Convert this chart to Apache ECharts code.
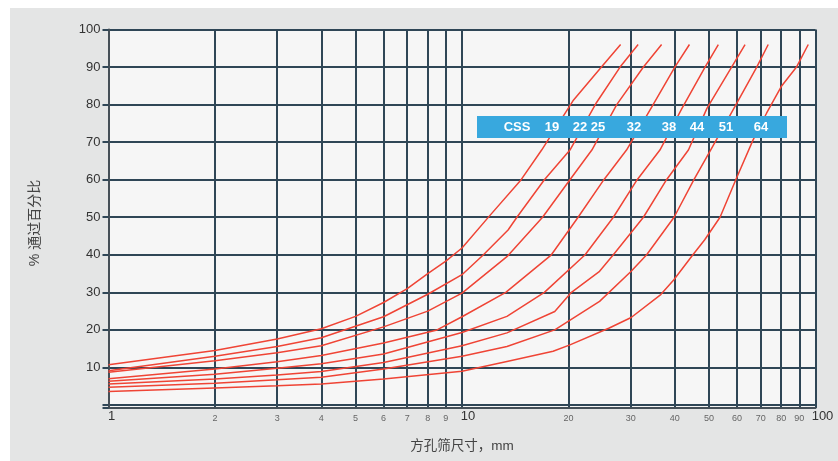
<!DOCTYPE html>
<html>
<head>
<meta charset="utf-8">
<script src="https://cdn.jsdelivr.net/npm/echarts@6/dist/echarts.min.js"></script>
<style>
html,body{margin:0;padding:0;background:#ffffff;}
#chart{width:838px;height:461px;}
</style>
</head>
<body>
<div id="chart"></div>
<script>
// ---- data (sieve size mm -> % passing) ----
const cssNames = ['19', '22', '25', '32', '38', '44', '51', '64'];

const size19 = [1, 2, 3, 4, 5, 6, 7, 8, 9, 10, 12, 14.7, 16.8, 20.6, 24.8, 28.1];
const pass19 = [10.7, 14.5, 17.6, 20.3, 23.6, 27.3, 31, 35, 38.3, 41.8, 50.5, 60, 67.9, 81, 90, 96];

const size22 = [1, 2, 3, 4, 6, 8, 10, 11.5, 13.5, 14.3, 17.1, 20.2, 24, 28, 31.5];
const pass22 = [9.1, 13.0, 15.6, 17.9, 23.5, 29.5, 34.7, 40, 46.6, 50, 60, 67.9, 80.5, 90, 96];

const size25 = [1, 2, 3, 4, 6, 8, 10, 13.4, 16.9, 20.2, 23.3, 27.4, 32.6, 36.7];
const pass25 = [8.7, 11.8, 13.9, 15.8, 20.8, 25, 29.8, 39.5, 50, 60, 67.9, 80, 90, 96];

const size32 = [1, 2, 3, 4, 6, 8.5, 10, 13.3, 17.9, 21.3, 25.2, 29.2, 34.5, 40, 44];
const pass32 = [7.0, 9.6, 11.5, 13.2, 16.5, 20, 23.5, 30, 40, 50, 60, 67.9, 79.5, 90, 96];

const size38 = [1, 2, 3, 4, 6, 10, 13.4, 17.1, 22.3, 26.8, 31.3, 36.3, 41.9, 48.7, 53.1];
const pass38 = [6.3, 8.2, 9.8, 11.0, 13.6, 19.3, 23.6, 30, 40, 50, 60, 67.9, 79, 90, 96];

const size44 = [1, 2, 3, 4, 6, 10, 13.4, 18.3, 20.4, 24.5, 26.8, 32.6, 37.9, 43.7, 49.3, 57.9, 63.2];
const pass44 = [5.6, 6.9, 8.0, 8.9, 11.3, 15.8, 19.2, 24.9, 30, 35.6, 40, 50, 60, 67.9, 79, 90, 96];

const size51 = [1, 2, 3, 4, 6, 10, 13.4, 18.3, 24.5, 30.1, 33.3, 39.8, 45.3, 50.5, 59.2, 68.2, 73.5];
const pass51 = [4.7, 5.8, 6.7, 7.4, 9.6, 13, 15.6, 20, 27.6, 35.6, 40, 50, 60, 67.9, 79.5, 90, 96];

const size64 = [1, 2, 3, 4, 6, 10, 13.4, 18.1, 20.2, 26.1, 30.1, 36.5, 39.7, 45, 48.6, 53.7, 59.5, 66.6, 72.7, 80, 88.5, 95.4];
const pass64 = [3.6, 4.5, 5.1, 5.6, 6.9, 9.0, 11.6, 14.3, 16.0, 20.5, 23.3, 29.4, 33.3, 40, 44, 50, 60, 70.6, 77.7, 84.8, 90.1, 96];

const xTicks = [1, 2, 3, 4, 5, 6, 7, 8, 9, 10, 20, 30, 40, 50, 60, 70, 80, 90, 100];

const legendTitle = 'CSS';
const xName = '方孔筛尺寸，mm';
const yName = '% 通过百分比';

// ---- chart ----
const curves = [
  [size19, pass19], [size22, pass22], [size25, pass25], [size32, pass32],
  [size38, pass38], [size44, pass44], [size51, pass51], [size64, pass64]
];

const FONT = "'Liberation Sans', Arial, 'Noto Sans CJK SC', sans-serif";
const GRID_COLOR = '#2f4656';
const LINE_COLOR = '#ef4435';

const chart = echarts.init(document.getElementById('chart'), null, {renderer: 'canvas'});

const legendX = [517, 552, 580, 598, 634, 669, 697, 726, 761];
const legendTexts = [legendTitle].concat(cssNames);

const graphics = [
  {type: 'rect', z: -10, silent: true, shape: {x: 10, y: 8, width: 828, height: 453}, style: {fill: '#e4e5e5'}},
  {type: 'rect', z: 100, silent: true, shape: {x: 477, y: 116, width: 310, height: 22}, style: {fill: '#38a8de'}},
  {
    type: 'text', z: 50, silent: true, x: 35, y: 223, rotation: Math.PI / 2,
    style: {text: yName, fill: '#444', font: '14px ' + FONT, textAlign: 'center', textVerticalAlign: 'middle'}
  }
];
legendTexts.forEach((t, i) => {
  graphics.push({
    type: 'text', z: 101, silent: true,
    style: {
      text: t, x: legendX[i], y: 127, fill: '#ffffff',
      font: 'bold 13px ' + FONT, textAlign: 'center', textVerticalAlign: 'middle'
    }
  });
});

const option = {
  animation: false,
  backgroundColor: '#ffffff',
  textStyle: {fontFamily: FONT},
  graphic: graphics,
  grid: {
    left: 108.5, right: 22.5, top: 29.5, bottom: 53,
    show: true, backgroundColor: '#f6f6f6', borderWidth: 0
  },
  xAxis: {
    type: 'log', logBase: 10, min: 1, max: 100,
    axisLine: {show: true, onZero: false, lineStyle: {color: '#454f57', width: 2}},
    axisTick: {show: false, customValues: xTicks},
    axisLabel: {
      customValues: xTicks,
      margin: 2,
      formatter: function (v) {
        if (v === 1) return '{b1|1}';
        if (v === 10) return '{b2|10}';
        if (v === 100) return '{b3|100}';
        return '{s|' + v + '}';
      },
      rich: {
        b1: {fontSize: 13, color: '#333', fontFamily: FONT, padding: [0, 0, 0, 6]},
        b2: {fontSize: 13, color: '#333', fontFamily: FONT, padding: [0, 0, 0, 12]},
        b3: {fontSize: 13, color: '#333', fontFamily: FONT, padding: [0, 0, 0, 14]},
        s: {fontSize: 9, color: '#666', fontFamily: FONT, padding: [4, 0, 0, 0]}
      }
    },
    splitLine: {show: true, lineStyle: {color: GRID_COLOR, width: 2}},
    name: xName, nameLocation: 'middle', nameGap: 32,
    nameTextStyle: {fontSize: 13.5, color: '#444', fontFamily: FONT}
  },
  yAxis: {
    type: 'value', min: -0.8, max: 100, splitNumber: 10,
    axisLine: {show: true, lineStyle: {color: '#454f57', width: 2}},
    axisTick: {show: true, length: 6, lineStyle: {color: GRID_COLOR, width: 2}},
    axisLabel: {
      margin: 8, fontSize: 13, color: '#333', fontFamily: FONT,
      formatter: function (v) { return v > 0 ? String(v) : ''; }
    },
    splitLine: {show: true, lineStyle: {color: GRID_COLOR, width: 2}}
  },
  series: curves.map((c, i) => ({
    name: cssNames[i],
    type: 'line',
    data: c[0].map((s, j) => [s, c[1][j]]),
    showSymbol: false,
    symbol: 'none',
    smooth: false,
    z: 3,
    lineStyle: {color: LINE_COLOR, width: 1.5},
    emphasis: {disabled: true}
  }))
};

chart.setOption(option);
</script>
</body>
</html>
